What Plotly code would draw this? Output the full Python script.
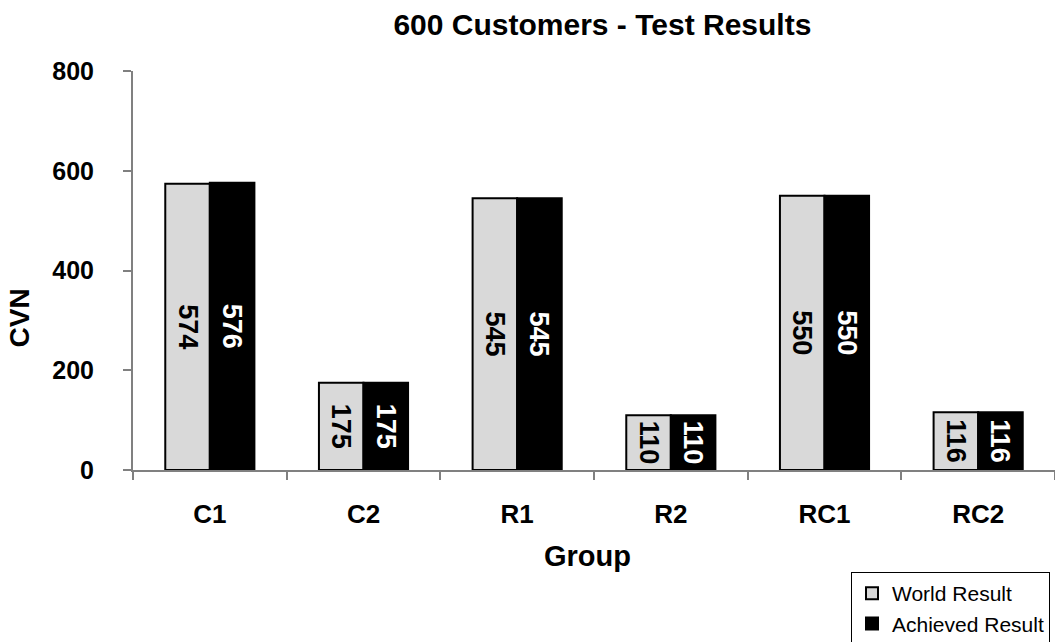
import plotly.graph_objects as go

# Test-group categories and CVN values
groups = ["C1", "C2", "R1", "R2", "RC1", "RC2"]
world_result = [574, 175, 545, 110, 550, 116]
achieved_result = [576, 175, 545, 110, 550, 116]

FONT = "Liberation Sans, Arial, sans-serif"
LABEL_SIZE = 27

fig = go.Figure()
fig.add_trace(go.Bar(
    name="World Result", x=groups, y=world_result,
    texttemplate="<b>%{y}</b>", textposition="inside",
    textangle=90, insidetextanchor="middle",
    textfont=dict(family=FONT, size=LABEL_SIZE, color="black"),
    marker=dict(color="#d9d9d9", line=dict(color="black", width=2)),
))
fig.add_trace(go.Bar(
    name="Achieved Result", x=groups, y=achieved_result,
    texttemplate="<b>%{y}</b>", textposition="inside",
    textangle=90, insidetextanchor="middle",
    textfont=dict(family=FONT, size=LABEL_SIZE, color="white"),
    marker=dict(color="black", line=dict(color="black", width=2)),
))

fig.update_layout(
    width=1055, height=642,
    margin=dict(l=133, r=0, t=71, b=172, autoexpand=False),
    paper_bgcolor="white", plot_bgcolor="white",
    font=dict(family=FONT, color="black"),
    barmode="group", bargap=0.42, bargroupgap=0,
    uniformtext=dict(minsize=LABEL_SIZE, mode="show"),
    title=dict(text="<b>600 Customers - Test Results</b>",
               x=0.571, xref="container", xanchor="center",
               y=0.962, yref="container", yanchor="middle",
               font=dict(size=30, family=FONT, color="black")),
    legend=dict(x=1050 / 1055, xref="container", xanchor="right",
                y=1 - 572 / 642, yref="container", yanchor="top",
                bordercolor="black", borderwidth=1, bgcolor="white",
                font=dict(size=21, family=FONT, color="black"),
                traceorder="normal", itemwidth=30, tracegroupgap=0),
    showlegend=True,
    annotations=[
        dict(text="<b>CVN</b>", textangle=-90, showarrow=False,
             xref="paper", yref="paper", x=(19.5 - 133) / 922, y=0.381,
             xanchor="center", yanchor="middle",
             font=dict(size=28, family=FONT, color="black")),
        dict(text="<b>Group</b>", showarrow=False,
             xref="paper", yref="paper", x=(587.5 - 133) / 922, y=(470 - 556) / 399,
             xanchor="center", yanchor="middle",
             font=dict(size=29, family=FONT, color="black")),
    ],
)

fig.update_xaxes(
    tickfont=dict(size=26, family=FONT),
    tickprefix="<b>", ticksuffix="</b>",
    showline=True, linecolor="#808080", linewidth=2,
    ticks="outside", tickson="boundaries", ticklen=8, tickcolor="#808080",
    tickwidth=1.5, ticklabelstandoff=20, showgrid=False, range=[-0.5, 5.5],
)
fig.update_yaxes(
    range=[0, 800], dtick=200,
    tickfont=dict(size=25, family=FONT),
    tickprefix="<b>", ticksuffix="</b>",
    showline=True, linecolor="#808080", linewidth=2,
    ticks="outside", ticklen=8, tickcolor="#808080", tickwidth=1.5,
    ticklabelstandoff=24, showgrid=False, zeroline=False,
)

fig.write_html("out.html")
